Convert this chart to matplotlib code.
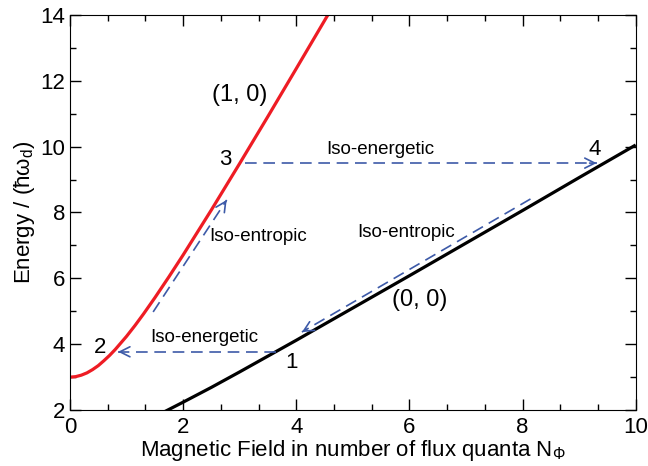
import numpy as np
import matplotlib
matplotlib.use("Agg")
import matplotlib.pyplot as plt
from matplotlib.ticker import MultipleLocator

plt.rcParams['font.family'] = ['Liberation Sans', 'DejaVu Sans']
plt.rcParams['mathtext.fontset'] = 'custom'
plt.rcParams['mathtext.rm'] = 'Liberation Sans'
plt.rcParams['mathtext.it'] = 'Liberation Sans:italic'

# state (1, 0)
b_red = [0.0, 0.1, 0.2, 0.3, 0.4, 0.5, 0.6, 0.7, 0.8, 0.9, 1.0, 1.15, 1.3, 1.5,
         1.75, 2.0, 2.5, 3.0, 3.5, 4.0, 4.6]
e_red = [3.0, 3.015, 3.06, 3.13, 3.23, 3.35, 3.5, 3.66, 3.84, 4.04, 4.24, 4.57,
         4.92, 5.41, 6.05, 6.71, 8.08, 9.49, 10.92, 12.37, 14.12]

# state (0, 0)
b_blk = [1.5, 1.75, 2.0, 2.5, 3.0, 3.5, 4.0, 5.0, 6.0, 7.0, 8.0, 9.0, 10.0]
e_blk = [1.8, 2.02, 2.24, 2.69, 3.16, 3.64, 4.12, 5.1, 6.08, 7.07, 8.06, 9.06, 10.05]

# cycle legs: (start, end)
legs = [((3.65, 3.77), (0.85, 3.77)),   # 1 -> 2 iso-energetic
        ((1.47, 4.98), (2.77, 8.38)),   # 2 -> 3 iso-entropic
        ((3.09, 9.5), (9.31, 9.5)),     # 3 -> 4 iso-energetic
        ((8.14, 8.41), (4.10, 4.37))]   # 4 -> 1 iso-entropic

corner_labels = ['1', '2', '3', '4']
corner_pos = [(3.92, 3.45), (0.53, 3.9), (2.74, 9.62), (9.28, 9.9)]

leg_labels = ['Iso-energetic', 'Iso-entropic', 'Iso-energetic', 'Iso-entropic']
leg_label_pos = [(2.38, 4.2), (3.32, 7.27), (5.48, 9.9), (5.95, 7.4)]

fig = plt.figure(figsize=(6.48, 4.66), dpi=100)
ax = fig.add_axes([0.108, 0.12, 0.873, 0.848])

ax.plot(b_blk, e_blk, color='black', lw=2.3, solid_capstyle='butt')
ax.plot(b_red, e_red, color='#ee1c24', lw=2.3)

blue = '#3d5aa8'
for (x0, y0), (x1, y1) in legs:
    ax.plot([x0, x1], [y0, y1], color=blue, lw=1.2, dashes=(7, 4))
    # arrow head only (shaft drawn dashed above)
    dx, dy = x1 - x0, y1 - y0
    ax.annotate('', xy=(x1, y1), xytext=(x1 - dx * 0.02, y1 - dy * 0.02),
                arrowprops=dict(arrowstyle='->', color=blue, lw=1.2,
                                mutation_scale=18, shrinkA=0, shrinkB=0))

for t, (x, y) in zip(corner_labels, corner_pos):
    ax.text(x, y, t, fontsize=16, ha='center', va='center')
for t, (x, y) in zip(leg_labels, leg_label_pos):
    ax.text(x, y, t, fontsize=13.5, ha='center', va='center')

ax.text(3.0, 11.57, '(1, 0)', fontsize=17, ha='center', va='center')
ax.text(6.18, 5.34, '(0, 0)', fontsize=17, ha='center', va='center')

ax.set_xlim(0, 10)
ax.set_ylim(2, 14)
ax.xaxis.set_major_locator(MultipleLocator(2))
ax.xaxis.set_minor_locator(MultipleLocator(2 / 3))
ax.yaxis.set_major_locator(MultipleLocator(2))
ax.yaxis.set_minor_locator(MultipleLocator(1))
ax.tick_params(which='both', direction='in', top=True, right=True, labelsize=16)
ax.tick_params(which='major', length=8, width=1)
ax.tick_params(which='minor', length=4, width=1)
ax.tick_params(axis='x', pad=5)
ax.set_xlabel(r'Magnetic Field in number of flux quanta N$_\Phi$', fontsize=16, labelpad=0)
ax.set_ylabel(r'Energy / ($\mathrm{\hbar\omega_d}$)', fontsize=16, labelpad=2)

fig.savefig('out.png', dpi=100)
